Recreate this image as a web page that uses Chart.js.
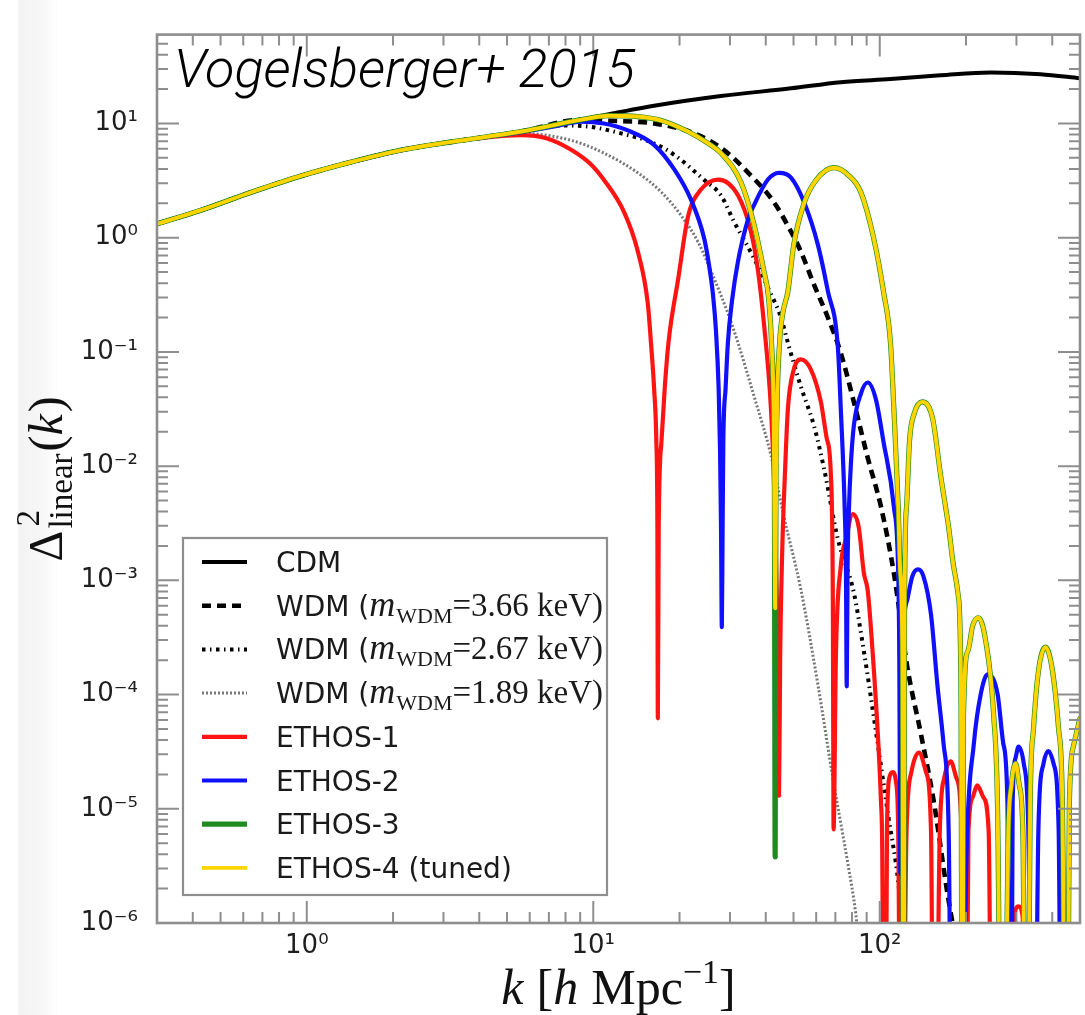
<!DOCTYPE html>
<html>
<head>
<meta charset="utf-8">
<script src="https://cdn.jsdelivr.net/npm/chart.js@4.4.1/dist/chart.umd.min.js"></script>
<style>
  html, body { margin: 0; padding: 0; background: #fff; }
  #wrap {
    position: relative; width: 1085px; height: 1015px;
    background: linear-gradient(to right, #fff 0px, #fff 17px, #f3f3f3 19px, #f7f7f7 42px, #fff 60px, #fff 100%);
  }
</style>
</head>
<body>
<div id="wrap"><canvas id="chart"></canvas></div>
<script>
// Linear dimensionless power spectra Delta^2(k) for CDM, three WDM masses and the ETHOS models.
// Nodes of the acoustic oscillations fall below the plotted floor; they are given this value.
const BELOW_FLOOR = 1e-9;
const B = BELOW_FLOOR;

// Large-scale part common to every model
const kShared = [0.3, 0.43, 0.64, 0.96, 1.43, 2.14, 3.2];
const deltaShared = [1.32, 1.75, 2.5, 3.49, 4.6, 5.85, 6.9];

const kCDM = [5.6, 9.1, 16.3, 27.9, 49, 73, 109, 163, 244, 364, 500];
const deltaCDM = [8.5, 10.8, 14.3, 17.4, 20.3, 23, 24.5, 26.4, 28, 27, 24.9];

const kWDM366 = [5.6, 9.08, 10.9, 16.3, 22.5, 28.6, 35.5, 42.7, 49, 53, 58.9, 65.9, 73.1, 81.2, 90.8, 101, 112, 125, 139, 154, 173, 184];
const deltaWDM366 = [8.5, 10.8, 10.6, 10.0, 8.2, 5.85, 3.5, 2.05, 1.13, 0.76, 0.39, 0.2, 0.098, 0.0365, 0.0118, 0.0044, 0.00116, 1.7e-4, 4.6e-5, 1.2e-5, 1.7e-6, 7.1e-7];

const kWDM267 = [5.6, 7.74, 9.6, 12.5, 16.3, 19.2, 24.4, 27.9, 31, 36.4, 40.7, 45.2, 47.8, 53, 58.9, 63.8, 71.4, 81.2, 88, 95.3, 107, 116, 121];
const deltaWDM267 = [8.5, 9.6, 9.4, 8.2, 6.7, 5.3, 3.2, 2.35, 1.38, 0.66, 0.365, 0.2, 0.12, 0.05, 0.0227, 0.0097, 0.0023, 7.8e-4, 2.4e-4, 6.4e-5, 8.8e-6, 2.3e-6, 7.1e-7];

const kWDM189 = [5.6, 8.4, 10.9, 14.3, 17.3, 20.2, 23.2, 26.4, 29.5, 32, 36.4, 41.7, 46.3, 53, 60.8, 69, 77.4, 82.5, 84.3];
const deltaWDM189 = [8.2, 7.1, 5.5, 3.7, 2.5, 1.58, 0.92, 0.44, 0.218, 0.12, 0.041, 0.0125, 0.0036, 8.4e-4, 1.23e-4, 1.7e-5, 3.3e-6, 1.2e-6, 7.1e-7];

const kEthos1 = [4.24, 5.6, 6.86, 8.4, 9.84, 10.9, 12.8, 14.3, 15.5, 15.9, 16.31, 16.6, 16.74, 16.8, 16.92, 17.3, 17.75, 18.3, 19.8, 21.4,
  23.8, 27.3, 32, 35.5, 37.6, 39.4, 41.7, 42.7, 43.4, 44.1, 44.5, 44.9, 45.6, 46.7, 47.8, 50.1, 53, 57.5, 62.3, 65.3,
  67.5, 68.6, 69, 70.3, 73.1, 76.2, 80.5, 84.5, 88, 90.8, 94.6, 98.4, 101, 102, 104, 106, 108, 111, 114, 116,
  119, 124, 129, 137, 145, 151, 155, 162, 168, 177, 185, 193, 198, 204, 211, 219, 230, 240, 248, 272,
  295, 305, 315, 330, 500];
const deltaEthos1 = [7.57, 7.9, 7.43, 5.85, 4.35, 3.2, 1.68, 0.76, 0.265, 0.12, 0.0472, 0.0165, 0.00294, 6.2e-5, 0.00294, 0.0165, 0.0472, 0.12, 0.44, 1.52,
  2.65, 3.23, 2.35, 1.13, 0.51, 0.18, 0.032, 0.008, 1.6e-3, 2e-4, 1.3e-5, 2e-4, 1.6e-3, 0.009, 0.032, 0.070, 0.086, 0.070, 0.0365, 0.0175,
  0.0084, 6e-4, 6.6e-6, 2.2e-4, 1.33e-3, 0.0023, 0.0038, 0.0029, 1.16e-3, 8.1e-4, 2.2e-4, 4.6e-5, 1.14e-5, 4.5e-6, B, 6.8e-6, 1.87e-5, 2.1e-5, 1.7e-5, 6.3e-6,
  B, 6.3e-6, 2.1e-5, 3.1e-5, 2.1e-5, 6.3e-6, B, 6.3e-6, 1.87e-5, 2.6e-5, 1.87e-5, 6.3e-6, B, 6.3e-6, 1.26e-5, 1.6e-5, 1.26e-5, 6.3e-6, B, B,
  1.16e-6, 1.4e-6, 1.16e-6, B, B];

const kEthos2 = [4.24, 5.6, 7.3, 9.08, 10.9, 13.2, 16.3, 19.2, 21.9, 24.4, 25.4, 26.2, 26.8, 27.4, 27.7, 27.92, 28.1, 28.28, 28.44, 28.95,
  29.5, 30.5, 32, 34.7, 36.4, 40.7, 44.5, 49, 54.4, 60.8, 65.9, 71.4, 73.1, 75.5, 76.2, 76.7, 77.2, 78, 79.3, 81.2,
  85.9, 90.8, 96.8, 103, 112, 116, 117, 118, 120, 125, 130, 136, 142, 151, 159, 167, 174, 180, 190, 201,
  213, 225, 238, 258, 270, 279, 286, 291, 298, 305, 318, 330, 344, 358, 373, 388, 404, 421, 434, 500];
const deltaEthos2 = [7.6, 8.4, 9.4, 10.4, 10.0, 8.7, 6.5, 3.94, 2.17, 0.98, 0.56, 0.31, 0.155, 0.047, 0.014, 0.0029, 3.9e-4, 0.0029, 0.0165, 0.047,
  0.12, 0.28, 0.62, 1.45, 1.93, 3.23, 3.7, 3.36, 2.05, 0.87, 0.34, 0.11, 0.032, 0.004, 0.0013, 1.18e-4, 0.0013, 0.004, 0.0105, 0.0227,
  0.043, 0.054, 0.039, 0.0165, 0.0044, 1.16e-3, 2.2e-4, 2.7e-6, 2.2e-4, 6.9e-4, 1.09e-3, 1.25e-3, 1.09e-3, 5e-4, 1.2e-4, 3.7e-5, 6.3e-6, B, B, 4.2e-6,
  3.7e-5, 1e-4, 1.5e-4, 1e-4, 3.7e-5, 1.14e-5, B, 1.14e-5, 2.8e-5, 3.5e-5, 2.5e-5, 6.8e-6, B, 6.8e-6, 2.5e-5, 3.2e-5, 2.5e-5, 6.8e-6, B, B];

// ETHOS-3 and ETHOS-4 share their sampling in k
const kEthos34 = [5.6, 9.1, 11.3, 14.3, 17.3, 21.4, 25.2, 27.9, 32.8, 36.4, 39.4, 40.9, 41.9, 42.6, 42.9, 43.14, 43.4, 43.8, 44.7, 45.9,
  47.8, 50.1, 54.4, 59.8, 69.2, 78, 85.9, 95.3, 103, 109, 112, 116, 118, 120, 121, 122, 124, 127, 132, 141,
  153, 163, 174, 181, 188, 192, 194.5, 196, 203, 211, 221, 234, 250, 258, 268, 281, 288, 298, 307, 316,
  325, 335, 344, 358, 379, 401, 421, 434, 448, 459, 474, 500];
const deltaEthos3 = [8.5, 10.8, 11.7, 11.5, 10.6, 8.5, 6.7, 5.5, 3.04, 1.3, 0.51, 0.3, 0.12, 0.032, 0.004, 3.8e-6, 0.004, 0.032, 0.12, 0.22,
  0.34, 0.87, 2.0, 3.17, 4.1, 3.5, 2.5, 0.98, 0.34, 0.12, 0.032, 0.0044, 1.16e-3, 2.2e-4, B, 6e-4, 0.0044, 0.0165, 0.029, 0.0365,
  0.026, 0.0084, 0.0029, 1.33e-3, 7.3e-4, 1.2e-4, B, 6.4e-5, 2.4e-4, 4e-4, 4.7e-4, 3e-4, 6.4e-5, 8.8e-6, B, 6e-6, 1.6e-5, 2.5e-5, 1.6e-5, 6e-6,
  B, 1.1e-5, 5e-5, 1.6e-4, 2.6e-4, 1.6e-4, 5e-5, 1.1e-5, B, 1.1e-5, 3.5e-5, 6.2e-5];
const deltaEthos4 = [8.5, 10.8, 11.7, 11.5, 10.6, 8.5, 6.7, 5.5, 3.04, 1.3, 0.51, 0.3, 0.12, 0.032, 0.004, 5.7e-4, 0.004, 0.032, 0.12, 0.22,
  0.34, 0.87, 2.0, 3.17, 4.1, 3.5, 2.5, 0.98, 0.34, 0.12, 0.032, 0.0044, 1.16e-3, 2.2e-4, B, 6e-4, 0.0044, 0.0165, 0.029, 0.0365,
  0.026, 0.0084, 0.0029, 1.33e-3, 7.3e-4, 1.2e-4, B, 6.4e-5, 2.4e-4, 4e-4, 4.7e-4, 3e-4, 6.4e-5, 8.8e-6, B, 6e-6, 1.6e-5, 2.5e-5, 1.6e-5, 6e-6,
  B, 1.1e-5, 5e-5, 1.6e-4, 2.6e-4, 1.6e-4, 5e-5, 1.1e-5, B, 1.1e-5, 3.5e-5, 6.2e-5];

const seriesLabels = ['CDM', 'WDM (m_WDM=3.66 keV)', 'WDM (m_WDM=2.67 keV)', 'WDM (m_WDM=1.89 keV)',
  'ETHOS-1', 'ETHOS-2', 'ETHOS-3', 'ETHOS-4 (tuned)'];

// Axis ticks
const X_MIN = 0.3, X_MAX = 500, Y_MIN = 1e-6, Y_MAX = 60;
const xMajorTicks = [1, 10, 100];
const yMajorTicks = [1e-6, 1e-5, 1e-4, 1e-3, 1e-2, 1e-1, 1, 10];

function minorTicks(lo, hi) {
  const out = [];
  for (let e = Math.floor(Math.log10(lo)); e <= Math.ceil(Math.log10(hi)); e++) {
    for (let m = 2; m <= 9; m++) {
      const v = m * Math.pow(10, e);
      if (v > lo * 1.0001 && v < hi * 0.9999) out.push(v);
    }
  }
  return out;
}
const xMinorTicks = minorTicks(X_MIN, X_MAX);
const yMinorTicks = minorTicks(Y_MIN, Y_MAX);

const SUP = { '-': '\u207B', '0': '\u2070', '1': '\u00B9', '2': '\u00B2', '3': '\u00B3', '4': '\u2074', '5': '\u2075', '6': '\u2076', '7': '\u2077', '8': '\u2078', '9': '\u2079' };
const decadeLabel = v => '10' + String(Math.round(Math.log10(v))).split('').map(c => SUP[c]).join('');

function series(kTail, dTail) {
  const ks = kShared.concat(kTail), ds = deltaShared.concat(dTail);
  return ks.map((k, i) => ({ x: k, y: ds[i] }));
}

const styles = [
  { color: '#000000', width: 4, dash: [] },
  { color: '#000000', width: 4.6, dash: [9, 6] },
  { color: '#000000', width: 4, dash: [3.5, 4.5, 1.5, 4.5] },
  { color: '#767676', width: 3, dash: [2, 2] },
  { color: '#ff1414', width: 4.2, dash: [] },
  { color: '#1010ff', width: 4.2, dash: [] },
  { color: '#1f8a1f', width: 5.2, dash: [] },
  { color: '#ffd400', width: 3.9, dash: [] }
];
const tables = [
  series(kCDM, deltaCDM),
  series(kWDM366, deltaWDM366),
  series(kWDM267, deltaWDM267),
  series(kWDM189, deltaWDM189),
  series(kEthos1, deltaEthos1),
  series(kEthos2, deltaEthos2),
  series(kEthos34, deltaEthos3),
  series(kEthos34, deltaEthos4)
];

const datasets = tables.map((data, i) => ({
  label: seriesLabels[i],
  data,
  borderColor: styles[i].color,
  backgroundColor: styles[i].color,
  borderWidth: styles[i].width,
  borderDash: styles[i].dash,
  borderCapStyle: styles[i].dash.length ? 'butt' : 'round',
  borderJoinStyle: 'round',
  pointRadius: 0,
  fill: false,
  cubicInterpolationMode: 'monotone',
  order: tables.length - i
}));

// Tick marks on all four sides, pointing inwards, and the frame
const frameTicks = {
  id: 'frameTicks',
  afterDatasetsDraw(chart) {
    const { ctx, chartArea: a, scales } = chart;
    const sx = scales.x, sy = scales.y;
    ctx.save();
    ctx.strokeStyle = '#8e8e8e';
    ctx.lineWidth = 2;
    ctx.beginPath();
    const xt = (v, len) => {
      const p = sx.getPixelForValue(v);
      ctx.moveTo(p, a.bottom); ctx.lineTo(p, a.bottom - len);
      ctx.moveTo(p, a.top); ctx.lineTo(p, a.top + len);
    };
    const yt = (v, len) => {
      const p = sy.getPixelForValue(v);
      ctx.moveTo(a.left, p); ctx.lineTo(a.left + len, p);
      ctx.moveTo(a.right, p); ctx.lineTo(a.right - len, p);
    };
    xMinorTicks.forEach(v => xt(v, 11));
    xMajorTicks.forEach(v => xt(v, 22));
    yMinorTicks.forEach(v => yt(v, 11));
    yMajorTicks.forEach(v => yt(v, 22));
    ctx.stroke();
    ctx.lineWidth = 2.6;
    ctx.strokeRect(a.left, a.top, a.right - a.left, a.bottom - a.top);
    ctx.restore();
  }
};

const SANS = '"DejaVu Sans", "Liberation Sans", sans-serif';
const SERIF = '"Liberation Serif", "DejaVu Serif", serif';

function drawRuns(ctx, runs, x, y) {
  let cx = x;
  for (const r of runs) {
    ctx.font = r.font;
    ctx.fillText(r.text, cx, y + (r.dy || 0));
    cx += ctx.measureText(r.text).width + (r.after || 0);
  }
  return cx;
}
function runsWidth(ctx, runs) {
  let w = 0;
  for (const r of runs) { ctx.font = r.font; w += ctx.measureText(r.text).width + (r.after || 0); }
  return w;
}

// Legend, citation and axis titles
const annotations = {
  id: 'annotations',
  afterDraw(chart) {
    const { ctx, chartArea: a } = chart;
    ctx.save();

    // citation
    ctx.fillStyle = '#000';
    ctx.textBaseline = 'alphabetic';
    ctx.textAlign = 'left';
    ctx.font = 'italic 300 54px Roboto, "Liberation Sans", sans-serif';
    ctx.fillText('Vogelsberger+ 2015', a.left + 17, 87);

    // legend box
    const lw = 424, lh = 357;
    const lx = a.left + 26, ly = a.bottom - 28 - lh;
    ctx.fillStyle = '#fff';
    ctx.fillRect(lx, ly, lw, lh);
    ctx.strokeStyle = '#8e8e8e';
    ctx.lineWidth = 2.2;
    ctx.strokeRect(lx, ly, lw, lh);

    chart.data.datasets.forEach((ds, i) => {
      const ry = ly + 24 + i * 43.7;
      ctx.save();
      ctx.strokeStyle = ds.borderColor;
      ctx.lineWidth = ds.borderWidth;
      ctx.setLineDash(ds.borderDash || []);
      ctx.lineCap = 'butt';
      ctx.beginPath();
      ctx.moveTo(lx + 19, ry); ctx.lineTo(lx + 64, ry);
      ctx.stroke();
      ctx.restore();

      ctx.fillStyle = '#1a1a1a';
      const tx = lx + 93, base = ry + 10;
      const m = /^WDM \(m_WDM=(.*)\)$/.exec(ds.label);
      if (m) {
        drawRuns(ctx, [
          { text: 'WDM (', font: `28px ${SANS}` },
          { text: 'm', font: `italic 36px ${SERIF}`, after: 1 },
          { text: 'WDM', font: `22px ${SERIF}`, dy: 7 },
          { text: '=' + m[1] + ')', font: `33px ${SERIF}` }
        ], tx, base);
      } else {
        ctx.font = `28px ${SANS}`;
        ctx.fillText(ds.label, tx, base);
      }
    });

    // x-axis title: k [h Mpc^-1]
    ctx.fillStyle = '#111';
    const xRuns = [
      { text: 'k', font: `italic 50px ${SERIF}`, after: 13 },
      { text: '[', font: `50px ${SERIF}` },
      { text: 'h', font: `italic 50px ${SERIF}`, after: 13 },
      { text: 'Mpc', font: `50px ${SERIF}` },
      { text: '\u22121', font: `34px ${SERIF}`, dy: -21 },
      { text: ']', font: `50px ${SERIF}` }
    ];
    const xw = runsWidth(ctx, xRuns);
    drawRuns(ctx, xRuns, (a.left + a.right) / 2 - xw / 2, 1004);

    // y-axis title: Delta^2_linear(k), rotated
    ctx.save();
    ctx.translate(62, (a.top + a.bottom) / 2);
    ctx.rotate(-Math.PI / 2);
    const fBig = `48px ${SERIF}`, fScript = `33px ${SERIF}`;
    ctx.font = fBig; const wDelta = ctx.measureText('\u0394').width;
    ctx.font = fScript; const wSub = ctx.measureText('linear').width;
    const tail = [
      { text: '(', font: fBig },
      { text: 'k', font: `italic 48px ${SERIF}`, after: 2 },
      { text: ')', font: fBig }
    ];
    const total = wDelta + 2 + wSub + 2 + runsWidth(ctx, tail);
    let sx0 = -total / 2;
    ctx.font = fBig; ctx.fillText('\u0394', sx0, 0);
    sx0 += wDelta + 2;
    ctx.font = fScript;
    ctx.fillText('2', sx0 + 2, -23);
    ctx.fillText('linear', sx0, 10);
    sx0 += wSub + 2;
    drawRuns(ctx, tail, sx0, 0);
    ctx.restore();

    ctx.restore();
  }
};

const tickFont = { family: 'DejaVu Sans', size: 26 };

new Chart(document.getElementById('chart'), {
  type: 'line',
  data: { datasets },
  options: {
    responsive: true,
    maintainAspectRatio: false,
    animation: false,
    parsing: false,
    events: [],
    layout: { padding: { top: 20, right: 5, left: 0, bottom: 0 } },
    plugins: { legend: { display: false }, tooltip: { enabled: false }, title: { display: false } },
    scales: {
      x: {
        type: 'logarithmic', position: 'bottom', min: X_MIN, max: X_MAX,
        afterBuildTicks: s => { s.ticks = xMajorTicks.map(v => ({ value: v })); },
        afterFit: s => { s.height = 92; },
        grid: { display: false, drawTicks: false },
        border: { display: false },
        ticks: { autoSkip: false, maxRotation: 0, minRotation: 0, padding: 8, color: '#1e1e1e', font: tickFont, callback: v => decadeLabel(v) }
      },
      y: {
        type: 'logarithmic', position: 'left', min: Y_MIN, max: Y_MAX,
        afterBuildTicks: s => { s.ticks = yMajorTicks.map(v => ({ value: v })); },
        afterFit: s => { s.width = 157; },
        grid: { display: false, drawTicks: false },
        border: { display: false },
        ticks: { autoSkip: false, padding: 19, color: '#1e1e1e', font: tickFont, callback: v => decadeLabel(v) }
      }
    }
  },
  plugins: [frameTicks, annotations]
});
</script>
</body>
</html>
